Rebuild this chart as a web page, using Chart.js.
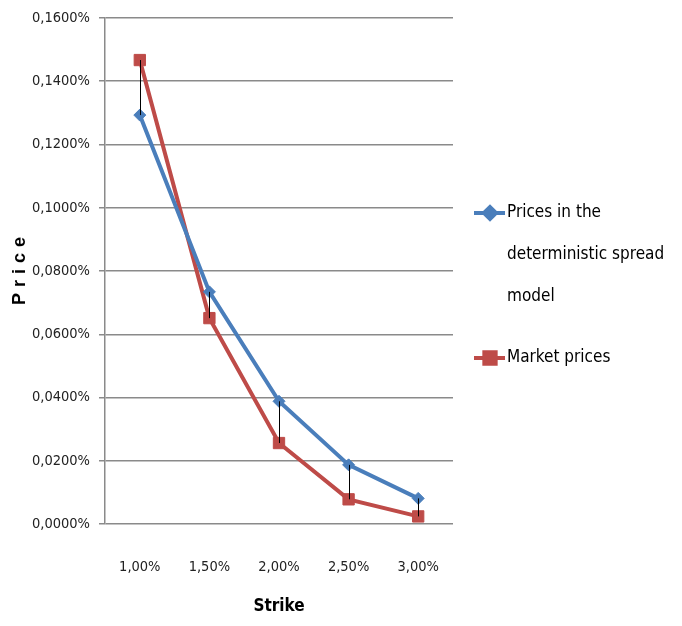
<!DOCTYPE html>
<html>
<head>
<meta charset="utf-8">
<script src="https://cdn.jsdelivr.net/npm/chart.js@4/dist/chart.umd.min.js"></script>
<style>
  html, body { margin: 0; padding: 0; background: #fff; }
  #wrap { width: 682px; height: 626px; position: relative; }
</style>
</head>
<body>
<div id="wrap"><canvas id="chart" width="682" height="626"></canvas></div>
<script>
// data (values are in percent)
const strikes = ['1,00%', '1,50%', '2,00%', '2,50%', '3,00%'];
const modelPrices = [0.1293, 0.0734, 0.0388, 0.0187, 0.0081];
const marketPrices = [0.1467, 0.0651, 0.0256, 0.0078, 0.0024];
const yMin = 0;
const yMax = 0.16;
const yStep = 0.02;

const BLUE = '#4a7ebb';
const RED = '#be4b48';
const FONT = "'DejaVu Sans Condensed', 'Liberation Sans Narrow', sans-serif";

// thin black lines between the two series at each strike
const highLowLines = {
    id: 'highLowLines',
    afterDatasetsDraw(chart) {
        const ctx = chart.ctx;
        const x = chart.scales.x;
        const y = chart.scales.y;
        ctx.save();
        ctx.strokeStyle = '#000';
        ctx.lineWidth = 1;
        strikes.forEach((s, i) => {
            const px = Math.round(x.getPixelForValue(i)) + 0.5;
            ctx.beginPath();
            ctx.moveTo(px, y.getPixelForValue(modelPrices[i]));
            ctx.lineTo(px, y.getPixelForValue(marketPrices[i]));
            ctx.stroke();
        });
        ctx.restore();
    }
};

// y title with spaced letters, and a legend with wrapped labels on the right
const extras = {
    id: 'extras',
    afterDraw(chart) {
        const ctx = chart.ctx;
        const area = chart.chartArea;
        const spacing = 6;
        ctx.save();
        ctx.fillStyle = '#000';
        ctx.font = "bold 18px 'Liberation Sans', sans-serif";
        ctx.translate(20, (area.top + area.bottom) / 2);
        ctx.rotate(-Math.PI / 2);
        ctx.textAlign = 'center';
        ctx.textBaseline = 'middle';
        if ('letterSpacing' in ctx) ctx.letterSpacing = spacing + 'px';
        ctx.fillText('Price', spacing / 2, 0);
        ctx.restore();

        ctx.save();
        ctx.font = '17px ' + FONT;
        ctx.textBaseline = 'middle';
        ctx.fillStyle = '#000';
        const x0 = 474, maxW = 168, lineH = 42;
        let yPos = 213;
        chart.data.datasets.forEach(ds => {
            // wrap the label
            const words = ds.label.split(' ');
            const lines = [];
            let cur = '';
            words.forEach(w => {
                const t = cur ? cur + ' ' + w : w;
                if (ctx.measureText(t).width > maxW && cur) {
                    lines.push(cur);
                    cur = w;
                } else {
                    cur = t;
                }
            });
            lines.push(cur);

            ctx.strokeStyle = ds.borderColor;
            ctx.lineWidth = 4;
            ctx.beginPath();
            ctx.moveTo(x0, yPos);
            ctx.lineTo(x0 + 31, yPos);
            ctx.stroke();
            Chart.helpers.drawPoint(ctx, {
                pointStyle: ds.pointStyle,
                radius: ds.pointRadius,
                borderWidth: 1
            }, x0 + 16, yPos);
            ctx.fillStyle = ds.pointBackgroundColor;
            ctx.strokeStyle = ds.pointBorderColor;
            ctx.fill();

            ctx.fillStyle = '#000';
            lines.forEach((ln, k) => {
                ctx.fillText(ln, x0 + 33, yPos + k * lineH);
            });
            yPos += lines.length * lineH + 19;
        });
        ctx.restore();
    }
};

new Chart(document.getElementById('chart'), {
    type: 'line',
    data: {
        labels: strikes,
        datasets: [
            {
                label: 'Prices in the deterministic spread model',
                data: modelPrices,
                borderColor: BLUE,
                backgroundColor: BLUE,
                borderWidth: 4,
                pointStyle: 'rectRot',
                pointRadius: 6,
                pointBackgroundColor: BLUE,
                pointBorderColor: BLUE,
                pointBorderWidth: 1,
                tension: 0
            },
            {
                label: 'Market prices',
                data: marketPrices,
                borderColor: RED,
                backgroundColor: RED,
                borderWidth: 4,
                pointStyle: 'rect',
                pointRadius: 8,
                pointBackgroundColor: RED,
                pointBorderColor: RED,
                pointBorderWidth: 1,
                tension: 0
            }
        ]
    },
    options: {
        responsive: false,
        animation: false,
        layout: { padding: { top: 18, right: 229, left: 0, bottom: 0 } },
        plugins: {
            legend: { display: false },
            tooltip: { enabled: false }
        },
        scales: {
            x: {
                offset: true,
                grid: { display: false, drawTicks: false },
                border: { display: false },
                ticks: {
                    color: '#222',
                    font: { family: FONT, size: 14.5 },
                    padding: 35
                },
                title: {
                    display: true,
                    text: 'Strike',
                    color: '#000',
                    font: { family: FONT, size: 17, weight: 'bold' },
                    padding: { top: 4, bottom: 9 }
                },
                afterFit(scale) { scale.height = 102; }
            },
            y: {
                min: yMin,
                max: yMax,
                grid: {
                    color: '#8a8a8a',
                    lineWidth: 1.5,
                    tickLength: 6
                },
                border: { display: true, color: '#8a8a8a', width: 1.5 },
                ticks: {
                    stepSize: yStep,
                    color: '#222',
                    padding: 9,
                    font: { family: FONT, size: 14.5 },
                    callback: v => v.toFixed(4).replace('.', ',') + '%'
                },
                afterFit(scale) { scale.width = 105; }
            }
        }
    },
    plugins: [highLowLines, extras]
});
</script>
</body>
</html>
